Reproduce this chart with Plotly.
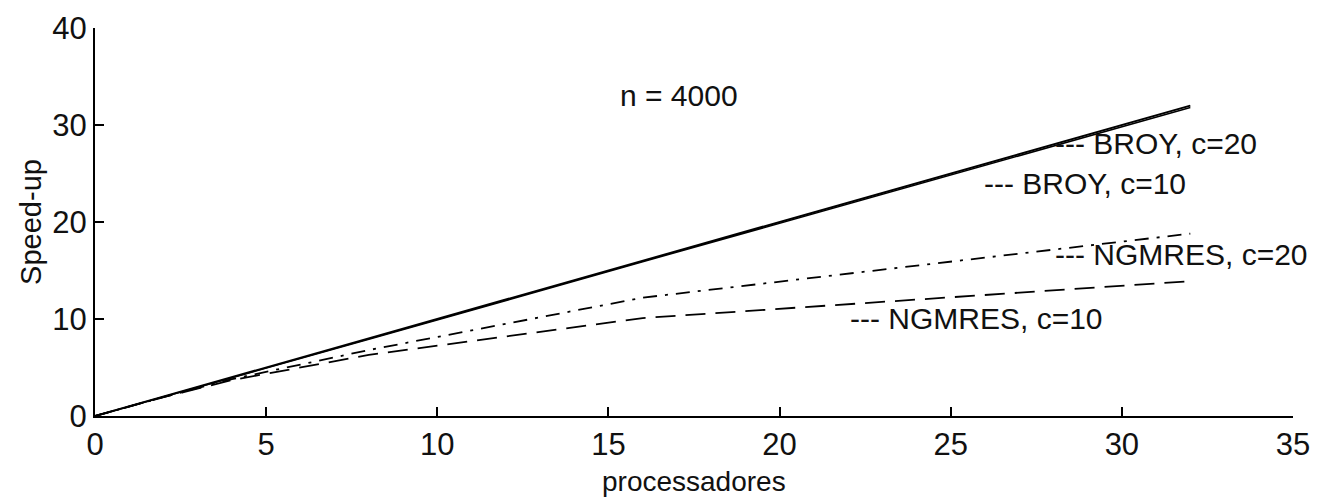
import plotly.graph_objects as go

processors = [0, 1, 2, 4, 8, 16, 32]
broy_c20 = [0, 1.0, 2.0, 4.0, 8.0, 16.0, 32.0]
broy_c10 = [0, 1.0, 2.0, 3.95, 7.9, 15.9, 31.8]
ngmres_c20 = [0, 1.0, 1.95, 3.8, 6.8, 12.2, 18.8]
ngmres_c10 = [0, 1.0, 1.95, 3.7, 6.3, 10.1, 13.9]

x_ticks = [0, 5, 10, 15, 20, 25, 30, 35]
y_ticks = [0, 10, 20, 30, 40]

label_texts = ["--- BROY, c=20", "--- BROY, c=10", "--- NGMRES, c=20", "--- NGMRES, c=10"]
label_x = [28.0, 25.9, 28.0, 22.0]
label_y = [28.1, 24.0, 16.6, 10.1]

FONT = "Liberation Sans, Arial, sans-serif"

fig = go.Figure()
fig.add_trace(go.Scatter(x=processors, y=broy_c20, mode="lines", name="BROY, c=20",
                         line=dict(color="black", width=2)))
fig.add_trace(go.Scatter(x=processors, y=broy_c10, mode="lines", name="BROY, c=10",
                         line=dict(color="black", width=1.5)))
fig.add_trace(go.Scatter(x=processors, y=ngmres_c20, mode="lines", name="NGMRES, c=20",
                         line=dict(color="black", width=1.8, dash="14px,8px,3px,8px")))
fig.add_trace(go.Scatter(x=processors, y=ngmres_c10, mode="lines", name="NGMRES, c=10",
                         line=dict(color="black", width=1.8, dash="20px,10px")))

for t, xx, yy in zip(label_texts, label_x, label_y):
    fig.add_annotation(x=xx, y=yy, text=t, showarrow=False, xanchor="left", yanchor="middle",
                       font=dict(family=FONT, size=30, color="#111"))

fig.add_annotation(x=17.05, y=33.0, text="n = 4000", showarrow=False, xanchor="center",
                   yanchor="middle", font=dict(family=FONT, size=30, color="#111"))

# x-axis title placed below tick labels
fig.add_annotation(x=0.5, y=-0.168, xref="paper", yref="paper", text="processadores",
                   showarrow=False, xanchor="center", yanchor="middle",
                   font=dict(family=FONT, size=28, color="#111"))

fig.update_layout(
    width=1330, height=500,
    margin=dict(l=95, r=37, t=28, b=84),
    paper_bgcolor="white", plot_bgcolor="white",
    showlegend=False,
    font=dict(family=FONT, color="#111"),
)
fig.update_xaxes(range=[0, 35], tickvals=x_ticks, ticktext=[str(v) for v in x_ticks],
                 showline=True, linecolor="black", linewidth=2, ticks="inside",
                 ticklen=9, tickwidth=1.5, tickcolor="black", showgrid=False, zeroline=False,
                 tickfont=dict(family=FONT, size=31), automargin=False)
fig.update_yaxes(range=[0, 40], tickvals=y_ticks, ticktext=[str(v) for v in y_ticks],
                 showline=True, linecolor="black", linewidth=2, ticks="inside",
                 ticklen=9, tickwidth=1.5, tickcolor="black", showgrid=False, zeroline=False,
                 tickfont=dict(family=FONT, size=31), automargin=False,
                 title=dict(text="Speed-up", font=dict(family=FONT, size=29), standoff=2))

fig.write_html("out.html")
